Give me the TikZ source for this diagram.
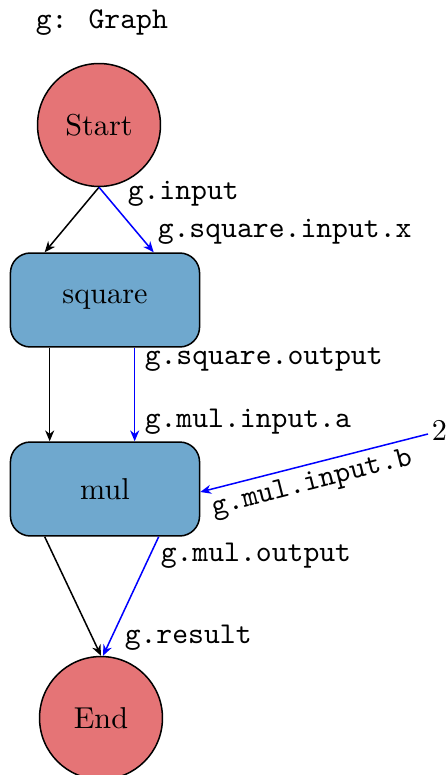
\documentclass[tikz,border=0pt]{standalone}
\usetikzlibrary{arrows.meta,calc}
\definecolor{nodered}{HTML}{E57476}
\definecolor{nodeblue}{HTML}{6FA8CE}
\begin{document}
\begin{tikzpicture}[x=0.331pt,y=-0.331pt,line width=0.5pt,
  endpoint/.style={circle,draw,fill=nodered,minimum size=40.7pt,inner sep=0pt},
  opbox/.style={rectangle,rounded corners=6.6pt,draw,fill=nodeblue,minimum width=62.6pt,minimum height=31.1pt},
  ctrl/.style={-{Stealth[length=3.6pt,width=3pt]},black},
  dflow/.style={-{Stealth[length=3.6pt,width=3pt]},blue},
  lbl/.style={font=\ttfamily,inner sep=0pt,anchor=west}]
\useasboundingbox (0,0) rectangle (448,775);
\node[lbl] (title) at (35,23) {g: Graph};
\node[endpoint] (start) at (99,125) {Start};
\node[opbox] (sq) at (105,300) {square};
\node[opbox] (mul) at (105,489) {mul};
\node[endpoint] (end) at (101,718) {End};
\coordinate (two) at (428,434);
\node[inner sep=0pt,anchor=west] (twolbl) at (431,430) {2};
% control edges
\draw[ctrl] (start.south) -- ($(sq.north west)+(35,0)$);
\draw[ctrl] ($(sq.south west)+(40,0)$) -- ($(mul.north west)+(40,0)$);
\draw[ctrl] ($(mul.south west)+(35,0)$) -- (end.north);
% data edges
\draw[dflow] (start.south) -- ($(sq.north west)+(144,0)$);
\draw[dflow] ($(sq.south west)+(125,0)$) -- ($(mul.north west)+(125,0)$);
\draw[dflow] (two) -- ($(mul.east)+(0,3)$);
\draw[dflow] ($(mul.south west)+(149,0)$) -- ($(end.north)+(2,0)$);
% labels
\node[lbl] (l1) at (127,194) {g.input};
\node[lbl] (l2) at (157,232) {g.square.input.x};
\node[lbl] (l3) at (144,360) {g.square.output};
\node[lbl] (l4) at (144,422) {g.mul.input.a};
\node[font=\ttfamily,inner sep=0pt,rotate=14.3] (l5) at (312,484) {g.mul.input.b};
\node[lbl] (l6) at (160,556) {g.mul.output};
\node[lbl] (l7) at (124,638) {g.result};
\end{tikzpicture}
\end{document}
